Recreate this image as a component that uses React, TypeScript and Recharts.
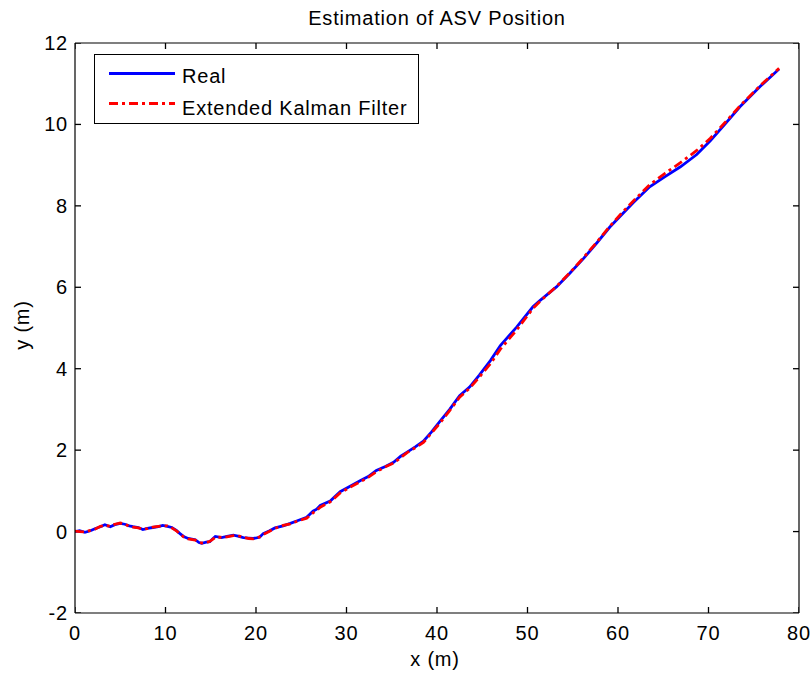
import { LineChart, Line, XAxis, YAxis } from "recharts";

// path samples (m)
const xPos = [
  0, 0.5, 1.1, 1.7, 2.2, 2.8, 3.3, 3.9, 4.4, 5.0, 5.5, 6.0, 6.4, 7.0, 7.5, 8.0,
  8.6, 9.2, 9.7, 10.2, 10.7, 11.2, 11.6, 12.0, 12.5, 13.3, 13.7, 14.0, 14.5,
  14.9, 15.2, 15.5, 16.2, 16.8, 17.5, 18.0, 18.6, 19.2, 19.7, 20.4, 20.8, 21.5,
  22.1, 23.0, 23.8, 24.5, 25.6, 26.3, 26.7, 27.1, 28.2, 29.3, 30.3, 31.5, 32.4,
  33.3, 34.3, 35.2, 36.0, 36.7, 37.6, 38.5, 39.4, 40.3, 41.4, 42.5, 43.6, 44.7,
  45.9, 47.0, 48.8, 50.6, 51.4, 53.2, 54.7, 56.2, 57.7, 59.1, 60.4, 61.7, 63.5,
  65.2, 66.9, 68.7, 70.2, 71.8, 73.5, 75.7, 77.8,
];

const realY = [
  0.0, 0.02, -0.02, 0.02, 0.07, 0.12, 0.17, 0.12, 0.17, 0.2, 0.18, 0.14, 0.12,
  0.1, 0.05, 0.08, 0.1, 0.12, 0.15, 0.13, 0.1, 0.03, -0.05, -0.12, -0.17, -0.2,
  -0.27, -0.29, -0.26, -0.25, -0.18, -0.12, -0.15, -0.12, -0.09, -0.11, -0.15,
  -0.16, -0.17, -0.14, -0.05, 0.02, 0.09, 0.14, 0.2, 0.26, 0.35, 0.5, 0.55, 0.64,
  0.75, 0.98, 1.1, 1.25, 1.35, 1.5, 1.6, 1.7, 1.85, 1.95, 2.08, 2.22, 2.45, 2.7,
  3.0, 3.34, 3.55, 3.85, 4.2, 4.57, 5.02, 5.52, 5.68, 6.01, 6.35, 6.71, 7.1,
  7.48, 7.78, 8.08, 8.47, 8.72, 8.96, 9.26, 9.6, 10.0, 10.44, 10.93, 11.36,
];

const ekfY = [
  0.01, 0.0, -0.01, 0.03, 0.06, 0.13, 0.15, 0.13, 0.18, 0.21, 0.19, 0.12, 0.11,
  0.09, 0.06, 0.07, 0.11, 0.13, 0.14, 0.14, 0.09, 0.02, -0.06, -0.13, -0.18,
  -0.21, -0.26, -0.28, -0.27, -0.24, -0.19, -0.14, -0.14, -0.13, -0.1, -0.1,
  -0.14, -0.17, -0.18, -0.13, -0.07, 0.01, 0.08, 0.15, 0.19, 0.25, 0.33, 0.46,
  0.52, 0.6, 0.73, 0.95, 1.08, 1.22, 1.33, 1.47, 1.59, 1.68, 1.82, 1.94, 2.06,
  2.19, 2.42, 2.66, 2.97, 3.3, 3.52, 3.8, 4.12, 4.48, 4.95, 5.48, 5.66, 6.02,
  6.36, 6.73, 7.12, 7.5, 7.82, 8.12, 8.52, 8.8, 9.06, 9.36, 9.66, 10.04, 10.46,
  10.95, 11.38,
];

const xTicks = [0, 10, 20, 30, 40, 50, 60, 70, 80];
const yTicks = [-2, 0, 2, 4, 6, 8, 10, 12];

const data = xPos.map((x, i) => ({ x, real: realY[i], ekf: ekfY[i] }));

const W = 812;
const H = 673;
const M = { top: 42, right: 12, bottom: 30, left: 15 };
const X_AXIS_H = 30;
const Y_AXIS_W = 60;
const plotW = W - M.left - M.right - Y_AXIS_W - 1;
const plotH = H - M.top - M.bottom - X_AXIS_H - 1;

// inward tick length (px) converted to data units
const TICK = 6;
const dxTick = (TICK * 80) / plotW;
const dyTick = (TICK * 14) / plotH;

// small two-point segments used as MATLAB-style inward tick marks
const tickSegments = [
  ...xTicks.map((t) => [{ x: t, v: -2 }, { x: t, v: -2 + dyTick }]),
  ...xTicks.map((t) => [{ x: t, v: 12 }, { x: t, v: 12 - dyTick }]),
  ...yTicks.map((t) => [{ x: 0, v: t }, { x: dxTick, v: t }]),
  ...yTicks.map((t) => [{ x: 80 - dxTick, v: t }, { x: 80, v: t }]),
];

const font = "'Liberation Sans', Arial, Helvetica, sans-serif";
const FS = 20;
const LS = 0.8;

type TickProps = { x?: number; y?: number; payload?: { value: number } };

const bottomLabel = (p: TickProps) => (
  <text x={p.x} y={(p.y ?? 0) + 27} textAnchor="middle" fontSize={FS} fill="#000" letterSpacing={LS}>
    {p.payload?.value}
  </text>
);

const leftLabel = (p: TickProps) => (
  <text x={(p.x ?? 0) - 7} y={(p.y ?? 0) + 7} textAnchor="end" fontSize={FS} fill="#000" letterSpacing={LS}>
    {p.payload?.value}
  </text>
);

function LegendBox() {
  return (
    <div
      style={{
        position: "absolute",
        left: 94,
        top: 54,
        width: 325,
        height: 70,
        border: "1px solid #000",
        background: "#fff",
        boxSizing: "border-box",
      }}
    >
      <svg width={325} height={70}>
        <line x1={14} y1={18.5} x2={80} y2={18.5} stroke="#0000ff" strokeWidth={2.8} />
        <line
          x1={14}
          y1={48.5}
          x2={80}
          y2={48.5}
          stroke="#ff0000"
          strokeWidth={2.8}
          strokeDasharray="9 4 3 4"
        />
        <text x={87} y={28} fontSize={FS} fill="#000" letterSpacing={LS}>
          Real
        </text>
        <text x={87} y={60} fontSize={FS} fill="#000" letterSpacing={LS}>
          Extended Kalman Filter
        </text>
      </svg>
    </div>
  );
}

export default function App() {
  return (
    <div
      style={{
        position: "absolute",
        left: 0,
        top: 0,
        width: W,
        height: H,
        background: "#fff",
        fontFamily: font,
      }}
    >
      <LineChart width={W} height={H} data={data} margin={M}>
        <XAxis
          xAxisId="b"
          type="number"
          dataKey="x"
          domain={[0, 80]}
          ticks={xTicks}
          interval={0}
          height={X_AXIS_H}
          tickSize={0}
          tickMargin={0}
          axisLine={{ stroke: "#000", strokeWidth: 1.2 }}
          tickLine={false}
          tick={bottomLabel}
          allowDataOverflow
        />
        <XAxis
          xAxisId="t"
          orientation="top"
          type="number"
          dataKey="x"
          domain={[0, 80]}
          ticks={xTicks}
          height={1}
          axisLine={{ stroke: "#000", strokeWidth: 1.2 }}
          tickLine={false}
          tick={false}
          allowDataOverflow
        />
        <YAxis
          yAxisId="l"
          type="number"
          domain={[-2, 12]}
          ticks={yTicks}
          interval={0}
          width={Y_AXIS_W}
          tickSize={0}
          tickMargin={0}
          axisLine={{ stroke: "#000", strokeWidth: 1.2 }}
          tickLine={false}
          tick={leftLabel}
          allowDataOverflow
        />
        <YAxis
          yAxisId="r"
          orientation="right"
          type="number"
          domain={[-2, 12]}
          ticks={yTicks}
          width={1}
          axisLine={{ stroke: "#000", strokeWidth: 1.2 }}
          tickLine={false}
          tick={false}
          allowDataOverflow
        />
        {tickSegments.map((seg, i) => (
          <Line
            key={`tick${i}`}
            xAxisId="b"
            yAxisId="l"
            data={seg}
            dataKey="v"
            type="linear"
            stroke="#000"
            strokeWidth={1.3}
            dot={false}
            activeDot={false}
            legendType="none"
            isAnimationActive={false}
          />
        ))}
        <Line
          xAxisId="b"
          yAxisId="l"
          dataKey="real"
          type="linear"
          stroke="#0000ff"
          strokeWidth={2.8}
          dot={false}
          isAnimationActive={false}
        />
        <Line
          xAxisId="b"
          yAxisId="l"
          dataKey="ekf"
          type="linear"
          stroke="#ff0000"
          strokeWidth={2.8}
          strokeDasharray="9 4 3 4"
          dot={false}
          isAnimationActive={false}
        />
      </LineChart>
      <div
        style={{
          position: "absolute",
          left: 237,
          top: 8,
          width: 400,
          textAlign: "center",
          fontSize: FS,
          lineHeight: "20px",
          letterSpacing: LS,
        }}
      >
        Estimation of ASV Position
      </div>
      <div
        style={{
          position: "absolute",
          left: 335,
          top: 649,
          width: 200,
          textAlign: "center",
          fontSize: FS,
          lineHeight: "20px",
          letterSpacing: LS,
        }}
      >
        x (m)
      </div>
      <div
        style={{
          position: "absolute",
          left: 22 - 100,
          top: 325 - 10,
          width: 200,
          textAlign: "center",
          fontSize: FS,
          lineHeight: "20px",
          letterSpacing: LS,
          transform: "rotate(-90deg)",
        }}
      >
        y (m)
      </div>
      <LegendBox />
    </div>
  );
}
